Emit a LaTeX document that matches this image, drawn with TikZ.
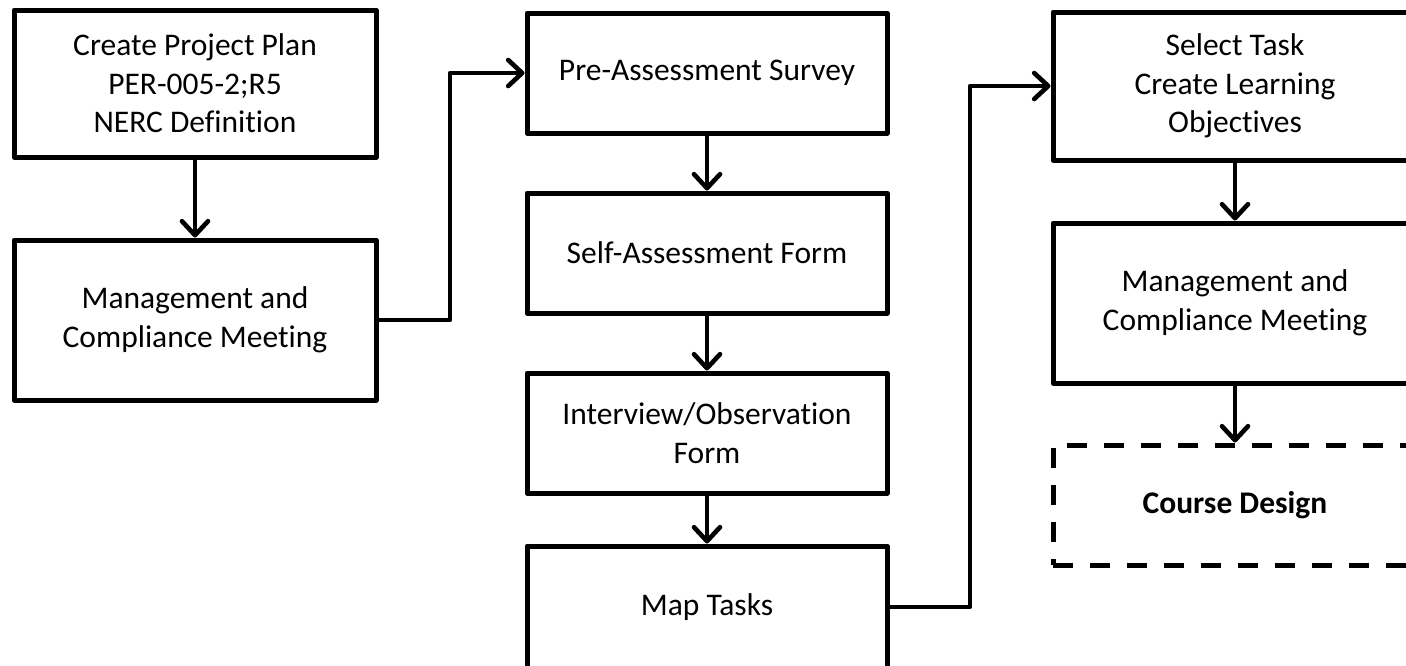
\documentclass[tikz,border=0pt]{standalone}
\usepackage{fontspec}
\setmainfont{Carlito}[Ligatures=NoCommon]
\usetikzlibrary{arrows.meta}
\begin{document}
\begin{tikzpicture}[x=1pt,y=-1pt,
  box/.style={draw, line width=5pt, line join=round, rectangle, align=center, inner sep=0pt,
    font=\fontsize{31.5}{38.5}\selectfont},
  flow/.style={line width=4.6pt, line join=round,
    -{Straight Barb[length=14pt,width=26pt,line cap=round,line join=round]}}]
\useasboundingbox (0,0) rectangle (1406,665);
\clip (0,0) rectangle (1406,665);
\node[box, minimum width=362pt, minimum height=147pt] (a) at (195,83.5) {Create Project Plan\\PER-005-2;R5\\NERC Definition};
\node[box, minimum width=362pt, minimum height=160pt] (b) at (195,320) {Management and\\Compliance Meeting};
\node[box, minimum width=360pt, minimum height=120pt] (c) at (707,73) {Pre-Assessment Survey};
\node[box, minimum width=360pt, minimum height=120pt] (d) at (707,253) {Self-Assessment Form};
\node[box, minimum width=360pt, minimum height=120pt] (e) at (707,433) {Interview/Observation\\Form};
\node[box, minimum width=360pt, minimum height=122pt] (f) at (707,607) {Map Tasks};
\node[box, minimum width=364pt, minimum height=148pt] (g) at (1235,86) {Select Task\\Create Learning\\Objectives};
\node[box, minimum width=364pt, minimum height=160pt] (h) at (1235,303) {Management and\\Compliance Meeting};
\node[box, dash pattern=on 20pt off 17pt, minimum width=364pt, minimum height=120pt] (i) at (1235,505) {\bfseries Course Design};
\coordinate (j1) at (450,0);
\coordinate (j2) at (970,0);
\draw[flow] (a) -- (b);
\draw[flow] (b.east) -- (b.east -| j1) |- (c.west);
\draw[flow] (c) -- (d);
\draw[flow] (d) -- (e);
\draw[flow] (e) -- (f);
\draw[flow] (f.east) -- (f.east -| j2) |- (g.west);
\draw[flow] (g) -- (h);
\draw[flow] (h) -- (i);
\end{tikzpicture}
\end{document}
